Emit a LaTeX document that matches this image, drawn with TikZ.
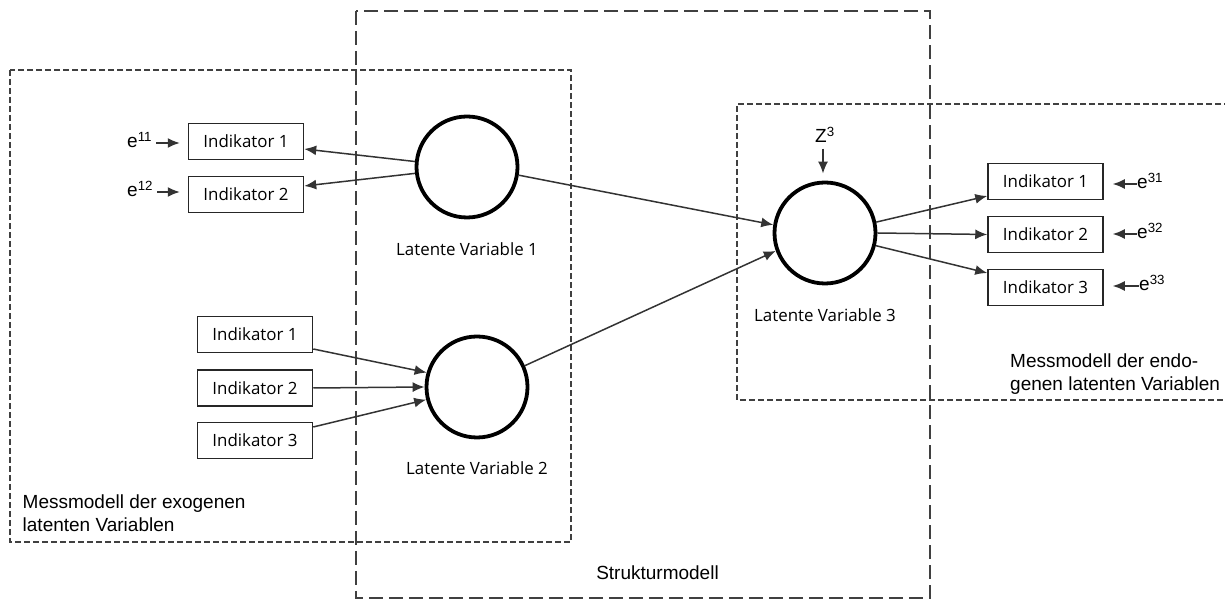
\documentclass[tikz,border=0pt]{standalone}
\usepackage{fontspec}
\setmainfont{Liberation Sans}
\newfontfamily\segoe{Open Sans}
\usetikzlibrary{arrows.meta,calc}
\begin{document}
\begin{tikzpicture}[x=1pt,y=1pt,
 indbox/.style={draw=black!85, line width=1.5pt, minimum width=115pt, minimum height=36pt, inner sep=0pt, font=\segoe\fontsize{16.9}{20}\selectfont},
 latent/.style={circle, draw=black, line width=3.8pt, minimum size=101pt, inner sep=0pt},
 lvlabel/.style={font=\segoe\fontsize{16.9}{20}\selectfont, inner sep=0pt, anchor=base},
 arr/.style={draw=black!80, line width=1.5pt, -{Latex[length=12pt,width=10pt]}},
 errlabel/.style={font=\fontsize{19}{23}\selectfont, inner sep=0pt, anchor=base west},
 struct/.style={draw=black!75, line width=1.5pt, dash pattern=on 14pt off 6pt},
 mess/.style={draw=black!75, line width=1.4pt, dash pattern=on 6pt off 3pt},
 note/.style={font=\fontsize{19}{23}\selectfont, inner sep=0pt, align=left}
]
\useasboundingbox (0,0) rectangle (1225,601);

% model frames
\draw[struct] (356,590) rectangle (930,3);
\draw[mess] (10,531) rectangle (571,59);
\draw[mess] (1230,497) -- (737,497) -- (737,201) -- (1230,201);

% frame texts
\node[note, anchor=north west] (exo) at (22.5,106.5) {Messmodell der exogenen\\latenten Variablen};
\node[note, anchor=north west] (endo) at (1010,247.5) {Messmodell der endo-\\genen latenten Variablen};
\node[note, anchor=base] (struk) at (657.5,21) {Strukturmodell};

% latent variables
\node[latent] (LV1) at (467,434) {};
\node[latent] (LV2) at (477,214) {};
\node[latent] (LV3) at (825,368) {};
\node[lvlabel] (LV1l) at (467,345) {Latente Variable 1};
\node[lvlabel] (LV2l) at (477,126) {Latente Variable 2};
\node[lvlabel] (LV3l) at (825,279) {Latente Variable 3};

% indicators
\node[indbox] (I11) at (246,459.5) {Indikator 1};
\node[indbox] (I12) at (246,406.5) {Indikator 2};
\node[indbox] (J1) at (255,266.5) {Indikator 1};
\node[indbox] (J2) at (255,213) {Indikator 2};
\node[indbox] (J3) at (255,160.5) {Indikator 3};
\node[indbox] (K1) at (1045.5,419.5) {Indikator 1};
\node[indbox] (K2) at (1045.5,366.5) {Indikator 2};
\node[indbox] (K3) at (1045.5,313.5) {Indikator 3};

% error terms
\node[errlabel] (e11) at (127,453) {e\textsuperscript{11}};
\node[errlabel] (e12) at (127,404) {e\textsuperscript{12}};
\node[errlabel] (e31) at (1137,412) {e\textsuperscript{31}};
\node[errlabel] (e32) at (1137,362) {e\textsuperscript{32}};
\node[errlabel] (e33) at (1139,310) {e\textsuperscript{33}};
\node[errlabel] (z3) at (815,458) {Z\textsuperscript{3}};

\draw[arr] ([shift={(4,5)}]e11.base east) -- ($(I11.west)+(-8,-1.5)$);
\draw[arr] ([shift={(4,5)}]e12.base east) -- ($(I12.west)+(-8,2.5)$);
\draw[arr] ([shift={(0,5)}]e31.base west) -- ($(K1.east)+(9,-2.5)$);
\draw[arr] ([shift={(0,5)}]e32.base west) -- ($(K2.east)+(9,0.5)$);
\draw[arr] ([shift={(0,5)}]e33.base west) -- ($(K3.east)+(9,1.5)$);
\draw[arr] ($(LV3.north)+(-2,32)$) -- ($(LV3.north)+(-2,7)$);

% measurement arrows
\draw[arr] (LV1.174) -- ($(I11.east)+(0,-7.5)$);
\draw[arr] (LV1.187) -- ($(I12.east)+(0,8.5)$);
\draw[arr] ($(J1.east)+(0,-14.5)$) -- (LV2.164);
\draw[arr] (J2.east) -- (LV2.west);
\draw[arr] ($(J3.east)+(0,13.5)$) -- (LV2.194);
\draw[arr] (LV3.12) -- ($(K1.west)+(0,-14.5)$);
\draw[arr] (LV3.east) -- (K2.west);
\draw[arr] (LV3.346) -- ($(K3.west)+(0,14.5)$);

% structural arrows
\draw[arr] (LV1.351) -- (LV3.171);
\draw[arr] (LV2.24) -- (LV3.200);
\end{tikzpicture}
\end{document}
